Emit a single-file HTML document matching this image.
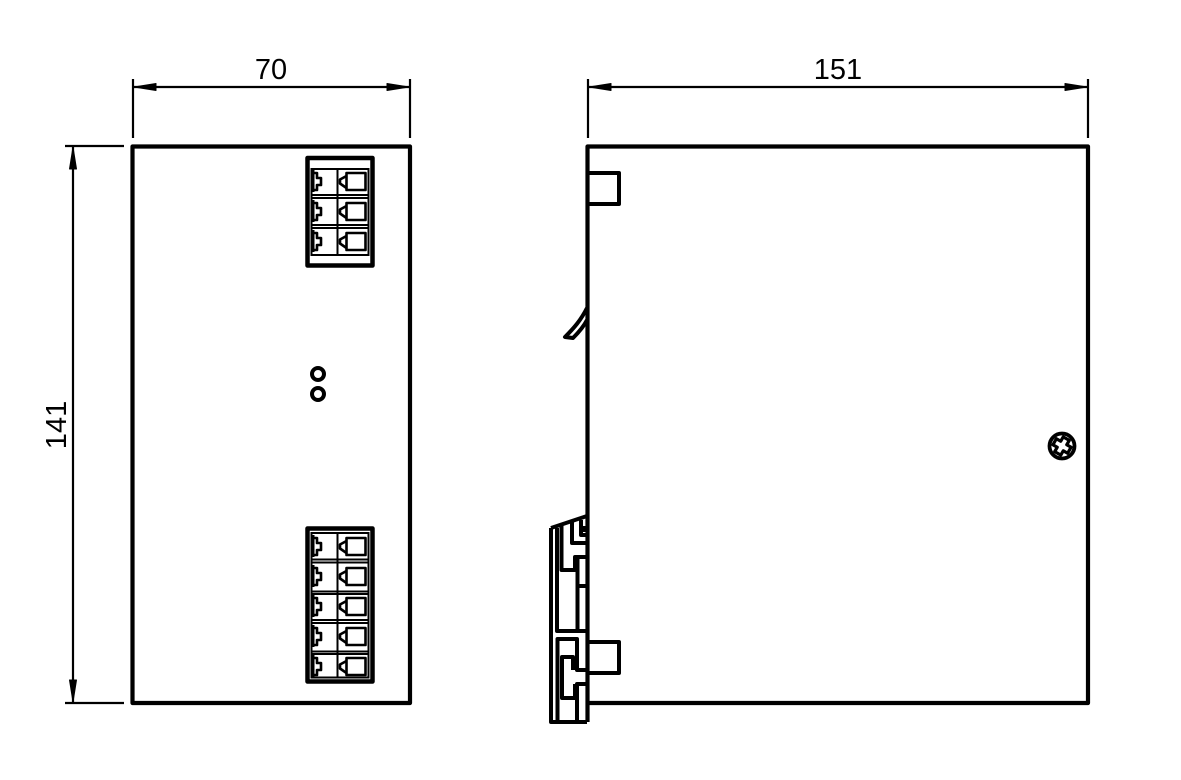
<!DOCTYPE html>
<html><head><meta charset="utf-8"><style>
html,body{margin:0;padding:0;background:#fff}
svg{display:block}
text{font-family:"Liberation Sans",sans-serif;font-size:29px;fill:#000}
</style></head><body>
<svg width="1181" height="780" viewBox="0 0 1181 780" xmlns="http://www.w3.org/2000/svg">
<defs>
<g id="cell" fill="none" stroke="#000" stroke-linejoin="round">
<path d="M313 2V24" stroke-width="3"/>
<path d="M313 5H317V10H321V17H317V22H313" stroke-width="2.600"/>
<rect x="346.500" y="5" width="19" height="17" stroke-width="2.600"/>
<path d="M346.500 8L340 11.500V15.500L346.500 20" stroke-width="2.600"/>
</g>
</defs>
<rect width="1181" height="780" fill="#fff"/>

<!-- main bodies -->
<g fill="none" stroke="#000" stroke-width="4.200" stroke-linejoin="round">
<rect x="132.500" y="146.500" width="277.500" height="556.500"/>
<path d="M587.500 722V146.500H1088V703H587.500"/>
</g>
<g fill="none" stroke="#000" stroke-width="4.500" stroke-linejoin="round">
<rect x="307.500" y="158" width="65" height="107.500"/>
<rect x="307.500" y="528.500" width="65" height="153"/>
</g>

<!-- connector grids -->
<g fill="none" stroke="#000" stroke-width="2">
<rect x="311.500" y="169" width="57" height="86"/>
<path d="M337.500 169V255M311 195H368M311 198H368M311 225H368M311 228H368"/>
<rect x="311.500" y="533" width="57" height="144.500"/>
<path d="M337.500 533V677M311 559.500H368M311 562.500H368M311 591.500H368M311 594H368M311 620H368M311 623H368M311 651.500H368M311 654H368"/>
</g>
<use href="#cell" y="168"/><use href="#cell" y="198"/><use href="#cell" y="228"/>
<use href="#cell" y="533"/><use href="#cell" y="563"/><use href="#cell" y="593"/><use href="#cell" y="623"/><use href="#cell" y="653"/>

<!-- LEDs -->
<circle cx="318" cy="374" r="6" fill="none" stroke="#000" stroke-width="4"/>
<circle cx="318" cy="394" r="6" fill="none" stroke="#000" stroke-width="4"/>

<!-- side view details -->
<g fill="none" stroke="#000" stroke-width="4" stroke-linejoin="round">
<path d="M587 173H619V204H587"/>
<path d="M587 642H619V673H587"/>
<path d="M587 308C581 320 574 328 565 337L573 338C579 332 584 326 587 320"/>
<path d="M551 528L587 516M551 528V722H587"/>
<path d="M557 528V631H587"/>
<path d="M561.500 525V570H575V557H587"/>
<path d="M572 522V543H587"/>
<path d="M577.500 557V631M577.500 586H587"/>
<path d="M581 520V535H587"/>
<path d="M557.500 722V639H577V670H587"/>
<path d="M587 684H577V722"/>
<path d="M573 670V657H562V698H575V684"/>
</g>
<rect x="583" y="526" width="4" height="6" fill="#000"/>

<!-- screw -->
<circle cx="1062" cy="446" r="12.500" fill="none" stroke="#000" stroke-width="3.800"/>
<path transform="rotate(30 1062 446)" d="M1058.500 437.500H1065.500V442.500H1070.500V449.500H1065.500V454.500H1058.500V449.500H1053.500V442.500H1058.500Z" fill="none" stroke="#000" stroke-width="3.200" stroke-linejoin="round"/>

<!-- dimensions -->
<g stroke="#000" stroke-width="2.200" fill="none">
<path d="M133 79V138M410 79V138M588 79V138M1088 79V138"/>
<path d="M133 87H410M588 87H1088"/>
<path d="M65 146H124M65 703H124M73 146V703"/>
</g>
<g fill="#000" stroke="#000" stroke-width="1" stroke-linejoin="round">
<path d="M134 87L156 83.500V90.500Z"/>
<path d="M409 87L387 83.500V90.500Z"/>
<path d="M589 87L611 83.500V90.500Z"/>
<path d="M1087 87L1065 83.500V90.500Z"/>
<path d="M73 147L69.500 169H76.500Z"/>
<path d="M73 702L69.500 680H76.500Z"/>
</g>
<text x="271" y="79" text-anchor="middle">70</text>
<text x="838" y="79" text-anchor="middle">151</text>
<text transform="translate(66 425) rotate(-90)" text-anchor="middle">141</text>
</svg>
</body></html>
